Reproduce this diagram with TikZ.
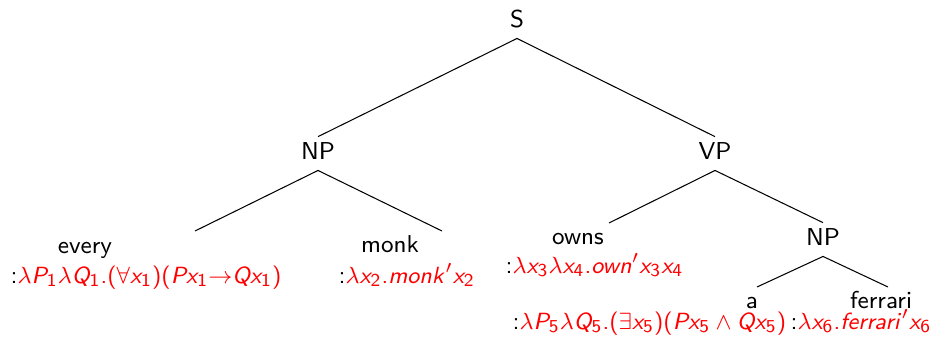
\documentclass[tikz,border=0pt]{standalone}
\usetikzlibrary{positioning}

% sans serif letters and digits in math
\DeclareSymbolFont{sfslanted}{OT1}{cmss}{m}{sl}
\DeclareSymbolFont{sfupright}{OT1}{cmss}{m}{n}
\DeclareMathSymbol{P}{\mathalpha}{sfslanted}{`P}
\DeclareMathSymbol{Q}{\mathalpha}{sfslanted}{`Q}
\DeclareMathSymbol{x}{\mathalpha}{sfslanted}{`x}
\DeclareMathSymbol{m}{\mathalpha}{sfslanted}{`m}
\DeclareMathSymbol{o}{\mathalpha}{sfslanted}{`o}
\DeclareMathSymbol{n}{\mathalpha}{sfslanted}{`n}
\DeclareMathSymbol{k}{\mathalpha}{sfslanted}{`k}
\DeclareMathSymbol{w}{\mathalpha}{sfslanted}{`w}
\DeclareMathSymbol{f}{\mathalpha}{sfslanted}{`f}
\DeclareMathSymbol{e}{\mathalpha}{sfslanted}{`e}
\DeclareMathSymbol{r}{\mathalpha}{sfslanted}{`r}
\DeclareMathSymbol{a}{\mathalpha}{sfslanted}{`a}
\DeclareMathSymbol{i}{\mathalpha}{sfslanted}{`i}
\DeclareMathSymbol{1}{\mathalpha}{sfupright}{`1}
\DeclareMathSymbol{2}{\mathalpha}{sfupright}{`2}
\DeclareMathSymbol{3}{\mathalpha}{sfupright}{`3}
\DeclareMathSymbol{4}{\mathalpha}{sfupright}{`4}
\DeclareMathSymbol{5}{\mathalpha}{sfupright}{`5}
\DeclareMathSymbol{6}{\mathalpha}{sfupright}{`6}
\DeclareMathSymbol{(}{\mathopen}{sfupright}{`(}
\DeclareMathSymbol{)}{\mathclose}{sfupright}{`)}
\DeclareMathSymbol{.}{\mathord}{sfupright}{`.}

\tikzset{
  cat/.style={inner sep=0pt,text height=8.4pt,text depth=4.2pt,anchor=base},
  word/.style={inner sep=0pt,anchor=base},
  sem/.style={inner sep=0pt,anchor=base west}
}
\newcommand{\lf}[1]{\textcolor{red}{$#1$}}

\begin{document}
\begin{tikzpicture}[x=0.3846pt,y=-0.3846pt,font=\fontsize{9.4pt}{11pt}\selectfont\sffamily]
      \useasboundingbox (0,0) rectangle (930,341);

      % categories
      \node [cat] (s) at (517,27) {S};
      \node [cat] (np-subj) at (318,159) {NP};
      \node [cat] (vp) at (715,159) {VP};
      \node [cat] (np-obj) at (823,245) {NP};

      % words and their meanings
      \node [word] (every) at (85,253) {every};
      \node [sem] (every-sem) at (10,283) {:\lf{\lambda P_1\lambda Q_1.(\forall x_1)(Px_1{\to}Qx_1)}};
      \node [word] (monk) at (390,252) {monk};
      \node [sem] (monk-sem) at (338,283) {:\lf{\lambda x_2.monk'x_2}};
      \node [word] (owns) at (578,244) {owns};
      \node [sem] (owns-sem) at (505,273) {:\lf{\lambda x_3\lambda x_4.own'x_3x_4}};
      \node [word] (a) at (752,308) {a};
      \node [sem] (a-sem) at (512,329) {:\lf{\lambda P_5\lambda Q_5.(\exists x_5)(Px_5\wedge Qx_5)}};
      \node [word] (ferrari) at (881,308) {ferrari};
      \node [sem] (ferrari-sem) at (790,329) {:\lf{\lambda x_6.ferrari'x_6}};

      % where the branches meet the leaves
      \coordinate (every-top) at (195,231);
      \coordinate (monk-top) at (442,231);
      \coordinate (owns-top) at (609,223);
      \coordinate (a-top) at (757,287);
      \coordinate (ferrari-top) at (888,287);

      \foreach \p/\c in {s/np-subj.north,s/vp.north,np-subj/every-top,np-subj/monk-top,vp/owns-top,vp/np-obj.north,np-obj/a-top,np-obj/ferrari-top} {
        \draw (\p.south) -- (\c);
      }
  \end{tikzpicture}
\end{document}
